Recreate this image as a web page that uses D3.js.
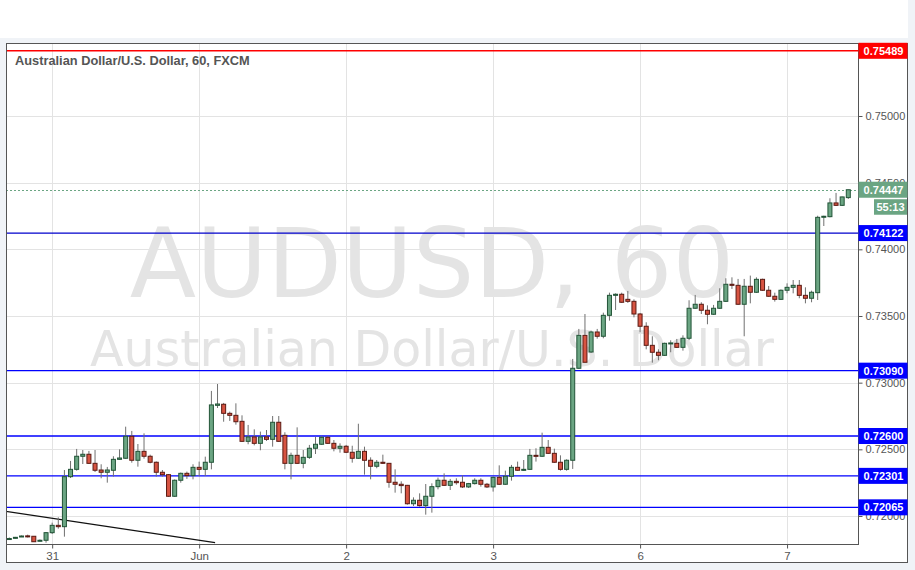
<!DOCTYPE html>
<html><head><meta charset="utf-8">
<script src="https://cdn.jsdelivr.net/npm/d3@7"></script>
<style>body{margin:0;background:#f0f3f7;}svg{display:block}</style>
</head><body>
<svg id="c" width="915" height="570"></svg>
<script>
// ---- data (hourly candles, AUD/USD) ----
const opens = [0.71826,0.71834,0.71844,0.71851,0.71848,0.71813,0.71818,0.71875,0.71930,0.71920,
0.72295,0.72350,0.72448,0.72463,0.72395,0.72345,0.72328,0.72343,0.72425,0.72433,
0.72598,0.72418,0.72485,0.72448,0.72403,0.72328,0.72310,0.72148,0.72268,0.72320,
0.72303,0.72365,0.72350,0.72403,0.72830,0.72838,0.72770,0.72755,0.72710,0.72560,
0.72593,0.72545,0.72593,0.72575,0.72703,0.72605,0.72395,0.72455,0.72395,0.72440,
0.72508,0.72538,0.72590,0.72545,0.72508,0.72523,0.72478,0.72433,0.72485,0.72418,
0.72373,0.72403,0.72395,0.72253,0.72238,0.72230,0.72092,0.72118,0.72078,0.72148,
0.72220,0.72268,0.72230,0.72260,0.72253,0.72218,0.72243,0.72268,0.72238,0.72218,
0.72290,0.72238,0.72298,0.72365,0.72343,0.72350,0.72455,0.72448,0.72515,0.72470,
0.72403,0.72350,0.72418,0.73108,0.73355,0.73230,0.73380,0.73348,0.73505,0.73655,
0.73663,0.73625,0.73610,0.73515,0.73423,0.73280,0.73228,0.73205,0.73295,0.73295,
0.73265,0.73333,0.73558,0.73588,0.73543,0.73513,0.73558,0.73610,0.73738,0.73730,
0.73588,0.73723,0.73678,0.73775,0.73693,0.73648,0.73625,0.73693,0.73715,0.73730,
0.73655,0.73633,0.73675,0.74243,0.74245,0.74348,0.74330,0.74388];
const highs = [0.71839,0.71843,0.71854,0.71860,0.71850,0.71824,0.71880,0.71950,0.71990,0.72345,
0.72413,0.72503,0.72495,0.72488,0.72495,0.72388,0.72368,0.72448,0.72500,0.72670,
0.72638,0.72540,0.72620,0.72460,0.72409,0.72345,0.72315,0.72274,0.72326,0.72333,
0.72388,0.72408,0.72445,0.72938,0.72990,0.72848,0.72783,0.72845,0.72755,0.72683,
0.72650,0.72633,0.72645,0.72750,0.72750,0.72628,0.72475,0.72665,0.72495,0.72533,
0.72595,0.72600,0.72600,0.72570,0.72545,0.72533,0.72527,0.72692,0.72520,0.72440,
0.72420,0.72460,0.72398,0.72350,0.72260,0.72233,0.72140,0.72170,0.72240,0.72245,
0.72288,0.72320,0.72278,0.72283,0.72305,0.72248,0.72283,0.72283,0.72248,0.72295,
0.72380,0.72340,0.72383,0.72408,0.72420,0.72503,0.72508,0.72625,0.72570,0.72505,
0.72455,0.72425,0.73178,0.73403,0.73515,0.73390,0.73403,0.73525,0.73675,0.73670,
0.73675,0.73688,0.73625,0.73523,0.73453,0.73348,0.73250,0.73300,0.73318,0.73328,
0.73355,0.73618,0.73658,0.73603,0.73580,0.73583,0.73708,0.73783,0.73790,0.73778,
0.73778,0.73803,0.73790,0.73780,0.73725,0.73675,0.73699,0.73745,0.73770,0.73770,
0.73715,0.73690,0.74252,0.74252,0.74383,0.74423,0.74395,0.74447];
const lows = [0.71820,0.71831,0.71843,0.71839,0.71805,0.71809,0.71800,0.71865,0.71905,0.71845,
0.72285,0.72340,0.72390,0.72390,0.72330,0.72283,0.72250,0.72295,0.72420,0.72428,
0.72400,0.72370,0.72430,0.72395,0.72295,0.72295,0.72143,0.72143,0.72250,0.72278,
0.72275,0.72300,0.72300,0.72350,0.72810,0.72707,0.72713,0.72685,0.72555,0.72538,
0.72530,0.72493,0.72563,0.72520,0.72555,0.72350,0.72275,0.72390,0.72358,0.72428,
0.72465,0.72533,0.72540,0.72485,0.72475,0.72472,0.72400,0.72428,0.72310,0.72275,
0.72358,0.72390,0.72212,0.72175,0.72170,0.72085,0.72075,0.72070,0.72010,0.72025,
0.72200,0.72225,0.72195,0.72235,0.72210,0.72210,0.72236,0.72220,0.72210,0.72183,
0.72233,0.72233,0.72265,0.72338,0.72338,0.72345,0.72408,0.72443,0.72465,0.72398,
0.72340,0.72340,0.72353,0.73103,0.73153,0.73223,0.73330,0.73333,0.73465,0.73545,
0.73598,0.73598,0.73490,0.73378,0.73250,0.73150,0.73168,0.73200,0.73228,0.73260,
0.73240,0.73318,0.73553,0.73515,0.73438,0.73508,0.73553,0.73605,0.73703,0.73583,
0.73348,0.73595,0.73673,0.73688,0.73643,0.73608,0.73620,0.73670,0.73670,0.73633,
0.73595,0.73603,0.73620,0.74175,0.74240,0.74325,0.74325,0.74378];
const closes = [0.71831,0.71840,0.71850,0.71849,0.71807,0.71818,0.71875,0.71930,0.71920,0.72295,
0.72350,0.72448,0.72463,0.72395,0.72343,0.72328,0.72345,0.72425,0.72435,0.72598,
0.72418,0.72485,0.72448,0.72403,0.72328,0.72310,0.72148,0.72268,0.72320,0.72303,
0.72365,0.72350,0.72403,0.72833,0.72840,0.72770,0.72755,0.72707,0.72560,0.72593,
0.72545,0.72593,0.72575,0.72703,0.72560,0.72395,0.72455,0.72395,0.72440,0.72508,
0.72538,0.72590,0.72545,0.72508,0.72523,0.72478,0.72433,0.72485,0.72418,0.72373,
0.72403,0.72395,0.72253,0.72238,0.72228,0.72092,0.72118,0.72078,0.72148,0.72220,
0.72268,0.72230,0.72260,0.72250,0.72218,0.72243,0.72268,0.72238,0.72218,0.72290,
0.72238,0.72298,0.72365,0.72343,0.72350,0.72455,0.72448,0.72515,0.72470,0.72403,
0.72350,0.72418,0.73108,0.73355,0.73153,0.73380,0.73348,0.73505,0.73655,0.73663,
0.73603,0.73610,0.73515,0.73423,0.73280,0.73228,0.73205,0.73295,0.73298,0.73265,
0.73333,0.73558,0.73588,0.73543,0.73513,0.73558,0.73610,0.73738,0.73730,0.73588,
0.73723,0.73678,0.73775,0.73693,0.73648,0.73625,0.73693,0.73715,0.73730,0.73655,
0.73633,0.73678,0.74240,0.74248,0.74348,0.74330,0.74393,0.74447];

const dayLabels = ["31","Jun","2","3","6","7"];
const dayStartIndex = [7,31,55,79,103,127];
const priceTicks = [0.720,0.725,0.730,0.735,0.740,0.745,0.750];
const levelPrices = [0.75489,0.74122,0.73090,0.72600,0.72301,0.72065];
const levelColors = ["#ff0000","#0000cc","#0000ff","#0000ff","#0000ff","#0000ff"];
const lastPrice = 0.74447;
const countdownText = "55:13";
const titleText = "Australian Dollar/U.S. Dollar, 60, FXCM";
const watermarkSymbol = "AUDUSD, 60";
const watermarkName = "Australian Dollar/U.S. Dollar";
const trendIndex = [-1, 33.6];
const trendPrice = [0.72038, 0.71800];

// ---- layout ----
const L = 6, R = 858, T = 43, B = 544, OUTR = 908, OUTB = 563;
const svg = d3.select("#c");
const candles = opens.map((o,i)=>({i, o, h:highs[i], l:lows[i], c:closes[i]}));

const x = d3.scaleLinear().domain([0, candles.length-1]).range([9.3, 848.3]);
const y = d3.scaleLinear().domain([0.7179, 0.755475]).range([B, T]);

svg.append("rect").attr("x",0).attr("y",0).attr("width",OUTR).attr("height",38).attr("fill","#ffffff");
svg.append("rect").attr("x",L).attr("y",T).attr("width",OUTR-L).attr("height",OUTB-T).attr("fill","#ffffff");

const crisp = v => Math.round(v) + 0.5;

// grid
svg.append("g").selectAll("line").data(priceTicks).join("line")
  .attr("x1",L).attr("x2",R).attr("y1",d=>crisp(y(d))).attr("y2",d=>crisp(y(d)))
  .attr("stroke","#e3e3e3").attr("stroke-width",1);
svg.append("g").selectAll("line").data(dayStartIndex).join("line")
  .attr("y1",T).attr("y2",B).attr("x1",d=>crisp(x(d))).attr("x2",d=>crisp(x(d)))
  .attr("stroke","#e3e3e3").attr("stroke-width",1);

// watermark
const cxPlot = (L+R)/2;
svg.append("text").attr("x",cxPlot).attr("y",297).attr("text-anchor","middle")
  .attr("font-family","DejaVu Sans").attr("font-size",97).attr("fill","#e4e4e4").text(watermarkSymbol);
svg.append("text").attr("x",cxPlot).attr("y",366).attr("text-anchor","middle")
  .attr("font-family","DejaVu Sans").attr("font-size",49).attr("fill","#e4e4e4").text(watermarkName);

// title
svg.append("text").attr("x",15).attr("y",65).attr("font-family","Liberation Sans, Arial, sans-serif")
  .attr("font-weight","bold").attr("font-size",12.8).attr("fill","#555").text(titleText);

// plot clip
svg.append("clipPath").attr("id","plotclip").append("rect").attr("x",L).attr("y",T).attr("width",R-L).attr("height",B-T);
const plot = svg.append("g").attr("clip-path","url(#plotclip)");

// trend line
plot.append("line")
  .attr("x1",x(trendIndex[0])).attr("y1",y(trendPrice[0]))
  .attr("x2",x(trendIndex[1])).attr("y2",y(trendPrice[1]))
  .attr("stroke","#111").attr("stroke-width",1.2);

// level lines
plot.append("g").selectAll("line").data(levelPrices).join("line")
  .attr("x1",L).attr("x2",R).attr("y1",d=>y(d)).attr("y2",d=>y(d))
  .attr("stroke",(d,i)=>levelColors[i]).attr("stroke-width",(d,i)=>i===0?1.6:1.3);

// current price dotted line
plot.append("line").attr("x1",L).attr("x2",R).attr("y1",crisp(y(lastPrice))).attr("y2",crisp(y(lastPrice)))
  .attr("stroke","#6ba583").attr("stroke-width",1).attr("stroke-dasharray","2,2");

// candles
const cg = plot.append("g");
cg.selectAll("line.wick").data(candles).join("line").attr("class","wick")
  .attr("x1",d=>x(d.i)).attr("x2",d=>x(d.i)).attr("y1",d=>y(d.h)).attr("y2",d=>y(d.l))
  .attr("stroke","#707070").attr("stroke-width",1);
cg.selectAll("rect.body").data(candles).join("rect").attr("class","body")
  .attr("x",d=>x(d.i)-2).attr("width",4)
  .attr("y",d=>y(Math.max(d.o,d.c)))
  .attr("height",d=>Math.max(1, Math.abs(y(d.o)-y(d.c))))
  .attr("fill",d=>d.c>=d.o?"#6ba583":"#d75442")
  .attr("stroke",d=>d.c>=d.o?"#225437":"#5b1a13").attr("stroke-width",1);

// frame
svg.append("rect").attr("x",L+0.5).attr("y",T+0.5).attr("width",OUTR-L-1).attr("height",OUTB-T-1)
  .attr("fill","none").attr("stroke","#555").attr("stroke-width",1);
svg.append("line").attr("x1",R+0.5).attr("x2",R+0.5).attr("y1",T).attr("y2",B+1).attr("stroke","#555");
svg.append("line").attr("x1",L).attr("x2",R+1).attr("y1",B+0.5).attr("y2",B+0.5).attr("stroke","#555");

// right axis
const yAxis = d3.axisRight(y).tickValues(priceTicks).tickFormat(d3.format(".5f")).tickSize(4).tickPadding(3);
const ya = svg.append("g").attr("transform",`translate(${R+0.5},0)`).call(yAxis);
ya.select(".domain").remove();
ya.selectAll("line").attr("stroke","#555");
ya.selectAll("text").attr("font-family","Liberation Sans, Arial, sans-serif").attr("font-size",11).attr("fill","#555");

// bottom axis
const xAxis = d3.axisBottom(x).tickValues(dayStartIndex).tickFormat((d,i)=>dayLabels[i]).tickSize(4).tickPadding(3);
const xa = svg.append("g").attr("transform",`translate(0,${B+0.5})`).call(xAxis);
xa.select(".domain").remove();
xa.selectAll("line").attr("stroke","#555");
xa.selectAll("text").attr("font-family","Liberation Sans, Arial, sans-serif").attr("font-size",11.5).attr("fill","#555");

// price label boxes
const fmt = d3.format(".5f");
const boxes = levelPrices.map((p,i)=>({p, color:levelColors[i]==="#ff0000"?"#ff0000":"#0000ff"}));
boxes.push({p:lastPrice, color:"#6ba583"});
const bg = svg.append("g");
bg.selectAll("rect").data(boxes).join("rect")
  .attr("x",R+0.5).attr("width",OUTR-R-1).attr("y",d=>y(d.p)-8).attr("height",16).attr("fill",d=>d.color);
bg.selectAll("text").data(boxes).join("text")
  .attr("x",(R+OUTR)/2+0.5).attr("y",d=>y(d.p)).attr("dy","0.36em").attr("text-anchor","middle")
  .attr("font-family","Liberation Sans, Arial, sans-serif").attr("font-weight","bold").attr("font-size",11)
  .attr("fill","#fff").text(d=>fmt(d.p));
// countdown box
bg.append("rect").attr("x",874).attr("width",OUTR-874-1).attr("y",y(lastPrice)+9.5).attr("height",15.5).attr("fill","#6ba583");
bg.append("text").attr("x",(874+OUTR-1)/2).attr("y",y(lastPrice)+17.3).attr("dy","0.36em").attr("text-anchor","middle")
  .attr("font-family","Liberation Sans, Arial, sans-serif").attr("font-weight","bold").attr("font-size",11)
  .attr("fill","#fff").text(countdownText);
</script>
</body></html>
